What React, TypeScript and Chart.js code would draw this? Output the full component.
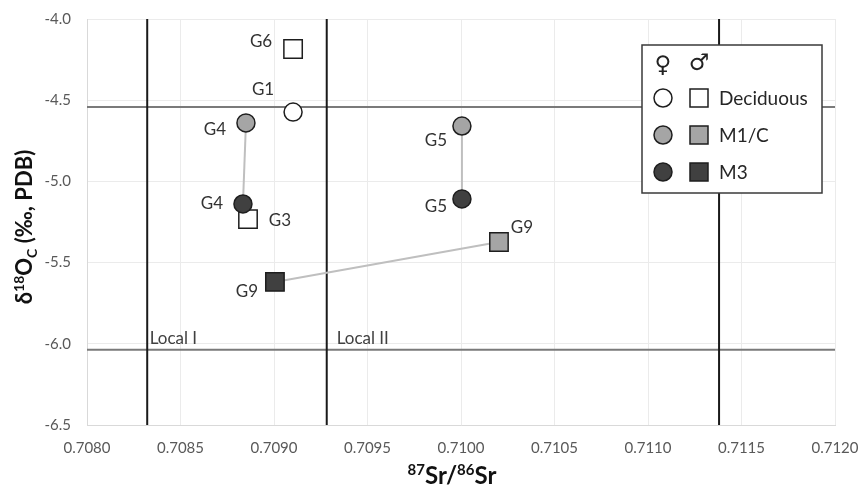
import React, { useEffect, useRef } from "react";
import { Chart, registerables } from "chart.js";

Chart.register(...registerables);

// ---- Data (87Sr/86Sr vs δ18Oc) ----
// Female (circles)
const fDecLabels = ["G1"];
const fDecSr = [0.709102];
const fDecO = [-4.573];
const fM1Labels = ["G4", "G5"];
const fM1Sr = [0.70885, 0.710005];
const fM1O = [-4.64, -4.659];
const fM3Labels = ["G4", "G5"];
const fM3Sr = [0.708834, 0.710005];
const fM3O = [-5.139, -5.108];
// Male (squares)
const mDecLabels = ["G6", "G3"];
const mDecSr = [0.709102, 0.708861];
const mDecO = [-4.185, -5.232];
const mM1Labels = ["G9"];
const mM1Sr = [0.710203];
const mM1O = [-5.373];
const mM3Labels = ["G9"];
const mM3Sr = [0.709005];
const mM3O = [-5.619];

// Local ranges
const localSrLines = [0.708322, 0.709282, 0.71138];
const localOLines = [-4.542, -6.036];
const localNames = ["Local I", "Local II"];
const localNameSr = [0.708335, 0.709335];
const localNameO = [-5.967, -5.967];

// Axes
const xMin = 0.708, xMax = 0.712, xStep = 0.0005;
const yMin = -6.5, yMax = -4.0, yStep = 0.5;
const legendItems = ["Deciduous", "M1/C", "M3"];

const WHITE = "#ffffff";
const GREY = "#a5a5a5";
const DARK = "#404040";
const EDGE = "#1e1e1e";
const FONT = "Lato, 'Open Sans', sans-serif";

const pts = (xs: number[], ys: number[]) => xs.map((x, i) => ({ x, y: ys[i] }));

function App() {
  const ref = useRef<HTMLCanvasElement | null>(null);

  useEffect(() => {
    if (!ref.current) return;

    const markerSet = (
      data: { x: number; y: number }[],
      labels: string[],
      fill: string,
      style: string,
      offsets: number[][]
    ) => ({
      type: "scatter",
      data,
      pointStyle: style,
      pointRadius: style === "circle" ? 9 : 13,
      pointBackgroundColor: fill,
      pointBorderColor: EDGE,
      pointBorderWidth: 1.5,
      showLine: false,
      order: 1,
      gLabels: labels,
      gOffsets: offsets,
    });

    const lineSet = (data: { x: number; y: number }[], color: string, width: number, order: number) => ({
      type: "scatter",
      data,
      showLine: true,
      borderColor: color,
      borderWidth: width,
      pointRadius: 0,
      pointHoverRadius: 0,
      order,
    });

    const datasets: any[] = [];
    // local boundaries
    localSrLines.forEach((v) =>
      datasets.push(lineSet([{ x: v, y: yMin }, { x: v, y: yMax }], "#1a1a1a", 2, 5))
    );
    localOLines.forEach((v) =>
      datasets.push(lineSet([{ x: xMin, y: v }, { x: xMax, y: v }], "#7a7a7a", 2, 5))
    );
    // connections between teeth of same individual
    fM1Labels.forEach((lab, i) => {
      const j = fM3Labels.indexOf(lab);
      if (j >= 0)
        datasets.push(lineSet([{ x: fM1Sr[i], y: fM1O[i] }, { x: fM3Sr[j], y: fM3O[j] }], "#bfbfbf", 2, 3));
    });
    mM1Labels.forEach((lab, i) => {
      const j = mM3Labels.indexOf(lab);
      if (j >= 0)
        datasets.push(lineSet([{ x: mM1Sr[i], y: mM1O[i] }, { x: mM3Sr[j], y: mM3O[j] }], "#bfbfbf", 2, 3));
    });

    datasets.push(markerSet(pts(fDecSr, fDecO), fDecLabels, WHITE, "circle", [[-30, -23]]));
    datasets.push(markerSet(pts(fM1Sr, fM1O), fM1Labels, GREY, "circle", [[-31, 7], [-26, 14]]));
    datasets.push(markerSet(pts(fM3Sr, fM3O), fM3Labels, DARK, "circle", [[-31, 0], [-26, 8]]));
    datasets.push(markerSet(pts(mDecSr, mDecO), mDecLabels, WHITE, "rect", [[-32, -8], [32, 1]]));
    datasets.push(markerSet(pts(mM1Sr, mM1O), mM1Labels, GREY, "rect", [[23, -14]]));
    datasets.push(markerSet(pts(mM3Sr, mM3O), mM3Labels, DARK, "rect", [[-28, 10]]));

    const overlay = {
      id: "overlay",
      afterDatasetsDraw(chart: any) {
        const ctx = chart.ctx as CanvasRenderingContext2D;
        const xs = chart.scales.x;
        const ys = chart.scales.y;
        const ca = chart.chartArea;
        ctx.save();

        // Local labels
        ctx.fillStyle = "#404040";
        ctx.font = `17px ${FONT}`;
        ctx.textAlign = "left";
        ctx.textBaseline = "middle";
        localNames.forEach((n, i) => {
          ctx.fillText(n, xs.getPixelForValue(localNameSr[i]), ys.getPixelForValue(localNameO[i]));
        });

        // Point labels
        ctx.font = `17px ${FONT}`;
        ctx.textAlign = "center";
        ctx.textBaseline = "middle";
        ctx.fillStyle = "#333333";
        chart.data.datasets.forEach((ds: any, di: number) => {
          if (!ds.gLabels) return;
          const meta = chart.getDatasetMeta(di);
          meta.data.forEach((el: any, i: number) => {
            const off = ds.gOffsets[i] || [0, 0];
            ctx.fillText(ds.gLabels[i], el.x + off[0], el.y + off[1]);
          });
        });

        // Legend box
        const bw = 180, bh = 148;
        const bx = ca.right - 13 - bw;
        const by = ca.top + 26;
        ctx.fillStyle = "#ffffff";
        ctx.fillRect(bx, by, bw, bh);
        ctx.strokeStyle = "#3a3a3a";
        ctx.lineWidth = 1.5;
        ctx.strokeRect(bx, by, bw, bh);

        const cx = bx + 21, sx = bx + 57, tx = bx + 77;
        ctx.fillStyle = "#222222";
        ctx.font = `23px 'DejaVu Sans', sans-serif`;
        ctx.textAlign = "center";
        ctx.fillText("\u2640", cx, by + 21);
        ctx.fillText("\u2642", sx, by + 19);

        const fills = [WHITE, GREY, DARK];
        legendItems.forEach((name, i) => {
          const yy = by + 53 + i * 37;
          ctx.beginPath();
          ctx.arc(cx, yy, 9, 0, Math.PI * 2);
          ctx.fillStyle = fills[i];
          ctx.fill();
          ctx.strokeStyle = EDGE;
          ctx.lineWidth = 1.5;
          ctx.stroke();
          ctx.fillStyle = fills[i];
          ctx.fillRect(sx - 9, yy - 9, 18, 18);
          ctx.strokeRect(sx - 9, yy - 9, 18, 18);
          ctx.fillStyle = "#262626";
          ctx.font = `19px ${FONT}`;
          ctx.textAlign = "left";
          ctx.fillText(name, tx, yy + 1);
        });

        // Axis titles
        const drawRuns = (runs: [string, number, number][], startX: number, baseY: number) => {
          let x = startX;
          runs.forEach(([t, size, dy]) => {
            ctx.font = `bold ${size}px ${FONT}`;
            ctx.fillText(t, x, baseY + dy);
            x += ctx.measureText(t).width;
          });
        };
        const measureRuns = (runs: [string, number, number][]) =>
          runs.reduce((w, [t, size]) => {
            ctx.font = `bold ${size}px ${FONT}`;
            return w + ctx.measureText(t).width;
          }, 0);

        ctx.fillStyle = "#111111";
        ctx.textAlign = "left";
        ctx.textBaseline = "alphabetic";
        const xRuns: [string, number, number][] = [
          ["87", 15, -9],
          ["Sr/", 24, 0],
          ["86", 15, -9],
          ["Sr", 24, 0],
        ];
        const xw = measureRuns(xRuns);
        drawRuns(xRuns, (ca.left + ca.right) / 2 - 9 - xw / 2, 484);

        const yRuns: [string, number, number][] = [
          ["\u03B4", 22, 0],
          ["18", 14, -8],
          ["O", 22, 0],
          ["C", 14, 5],
          [" (\u2030, PDB)", 22, 0],
        ];
        const yw = measureRuns(yRuns);
        ctx.translate(32, 227);
        ctx.rotate(-Math.PI / 2);
        drawRuns(yRuns, -yw / 2, 0);

        ctx.restore();
      },
    };

    const noPad = (s: any) => {
      s.paddingLeft = 0;
      s.paddingRight = 0;
      s.paddingTop = 0;
      s.paddingBottom = 0;
    };

    const chart = new Chart(ref.current, {
      type: "scatter",
      data: { datasets },
      plugins: [overlay],
      options: {
        animation: false,
        responsive: true,
        maintainAspectRatio: false,
        layout: { padding: { top: 19, right: 23, left: 0, bottom: 0 } },
        plugins: { legend: { display: false }, tooltip: { enabled: false } },
        scales: {
          x: {
            type: "linear",
            min: xMin,
            max: xMax,
            ticks: {
              stepSize: xStep,
              callback: (v: any) => Number(v).toFixed(4),
              font: { family: FONT, size: 15 },
              color: "#595959",
              padding: 14,
            },
            grid: { color: "#ebebeb", drawTicks: false, lineWidth: 1 },
            border: { display: true, color: "#d9d9d9" },
            afterFit: (s: any) => {
              s.height = 61;
              noPad(s);
            },
          },
          y: {
            type: "linear",
            min: yMin,
            max: yMax,
            ticks: {
              stepSize: yStep,
              callback: (v: any) => Number(v).toFixed(1),
              font: { family: FONT, size: 15 },
              color: "#595959",
              padding: 16,
            },
            grid: { color: "#ebebeb", drawTicks: false, lineWidth: 1 },
            border: { display: true, color: "#d9d9d9" },
            afterFit: (s: any) => {
              s.width = 87;
              noPad(s);
            },
          },
        },
      } as any,
    } as any);

    return () => chart.destroy();
  }, []);

  return (
    <div style={{ position: "fixed", left: 0, top: 0, width: 858, height: 486, background: "#fff" }}>
      <canvas ref={ref} />
    </div>
  );
}

export default App;
